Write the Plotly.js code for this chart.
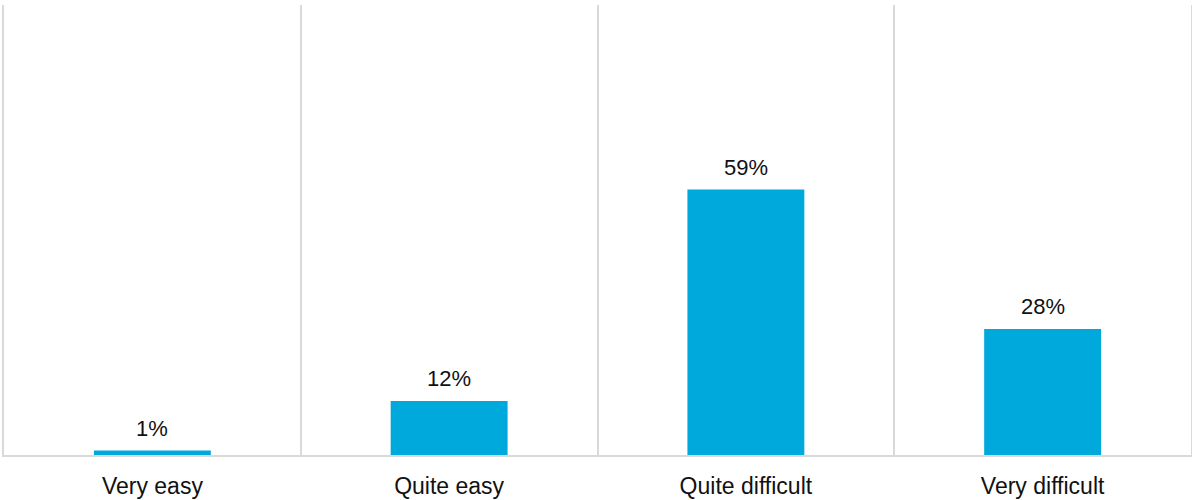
<!DOCTYPE html>
<html>
<head>
<meta charset="utf-8">
<script src="https://cdn.plot.ly/plotly-3.0.1.min.js"></script>
<style>
  html, body { margin: 0; padding: 0; background: #ffffff; }
  #chart { width: 1192px; height: 500px; }
</style>
</head>
<body>
<div id="chart"></div>
<script>
// Answer categories and share of respondents (%)
const categories = ["Very easy", "Quite easy", "Quite difficult", "Very difficult"];
const shares = [1, 12, 59, 28];
const shareLabels = ["1%", "12%", "59%", "28%"];

const barColor = "#00A9DC";
const gridColor = "#D9D9D9";
const textColor = "#111111";
const fontFamily = "Arial, 'Liberation Sans', sans-serif";

const trace = {
  type: "bar",
  x: categories,
  y: shares,
  marker: { color: barColor },
  width: 0.394,
  hoverinfo: "x+y"
};

// Value labels sit a little above each bar top
const valueLabels = categories.map((c, i) => ({
  x: c,
  y: shares[i],
  text: shareLabels[i],
  showarrow: false,
  xanchor: "center",
  yanchor: "bottom",
  yshift: 8,
  font: { family: fontFamily, size: 22, color: textColor }
}));

const layout = {
  width: 1192,
  height: 500,
  margin: { l: 4, r: 1, t: 5, b: 45 },
  paper_bgcolor: "#ffffff",
  plot_bgcolor: "#ffffff",
  showlegend: false,
  font: { family: fontFamily, size: 22, color: textColor },
  annotations: valueLabels,
  xaxis: {
    type: "category",
    tickson: "boundaries",
    showgrid: true,
    gridcolor: gridColor,
    gridwidth: 2,
    showline: true,
    linecolor: gridColor,
    linewidth: 2,
    ticks: "",
    ticklabelstandoff: 9,
    tickfont: { family: fontFamily, size: 23, color: textColor },
    fixedrange: true
  },
  yaxis: {
    range: [0, 100],
    showgrid: false,
    zeroline: false,
    showticklabels: false,
    showline: true,
    mirror: true,
    linecolor: gridColor,
    linewidth: 2,
    fixedrange: true
  }
};

Plotly.newPlot("chart", [trace], layout, { displayModeBar: false, staticPlot: true });
</script>
</body>
</html>
